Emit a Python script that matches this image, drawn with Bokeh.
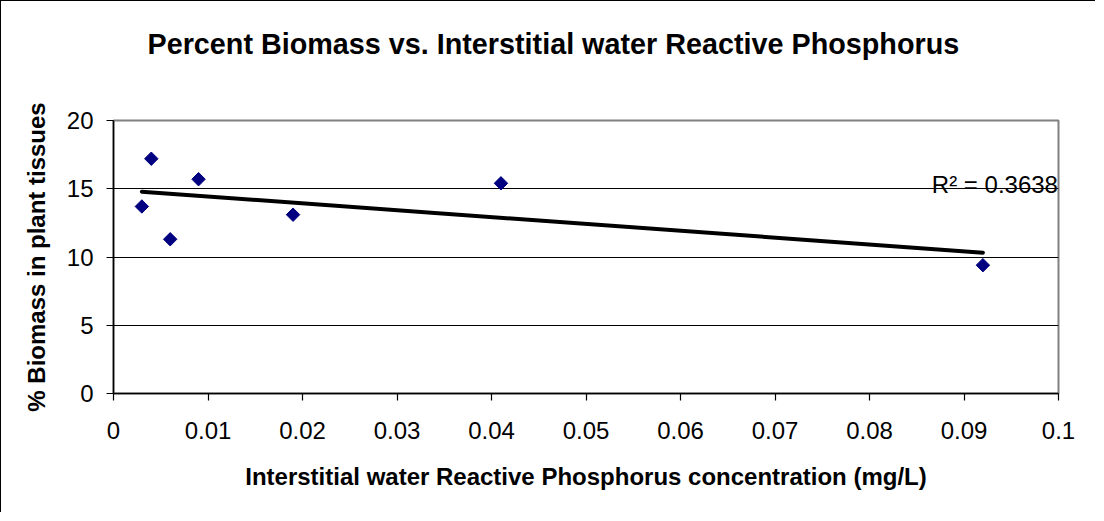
import numpy as np
from bokeh.plotting import figure
from bokeh.models import FixedTicker, Label, Range1d, Title
from bokeh.embed import file_html
from bokeh.resources import INLINE

# ---- data ----
phosphorus = [0.003, 0.004, 0.006, 0.009, 0.019, 0.041, 0.092]
biomass = [13.7, 17.2, 11.3, 15.7, 13.1, 15.4, 9.4]
x_ticks = [0.0, 0.01, 0.02, 0.03, 0.04, 0.05, 0.06, 0.07, 0.08, 0.09, 0.1]
x_tick_labels = ["0", "0.01", "0.02", "0.03", "0.04", "0.05", "0.06", "0.07", "0.08", "0.09", "0.1"]
y_ticks = [0, 5, 10, 15, 20]
y_tick_labels = ["0", "5", "10", "15", "20"]
title_text = "Percent Biomass vs. Interstitial water Reactive Phosphorus"
x_label = "Interstitial water Reactive Phosphorus concentration (mg/L)"
y_label = "% Biomass in plant tissues"
r2_text = "R\u00b2 = 0.3638"

FONT = "Liberation Sans"

p = figure(width=1095, height=512, output_backend="svg", toolbar_location=None,
           x_range=Range1d(0, 0.1), y_range=Range1d(0, 20),
           min_border_left=112, min_border_right=38, min_border_top=119, min_border_bottom=120)
p.styles = {"border-left": "1px solid #000000", "border-top": "1px solid #000000"}

p.background_fill_color = "white"
p.border_fill_color = "white"
p.outline_line_color = "#808080"
p.outline_line_width = 2

# spacer between the title and the plot area
p.add_layout(Title(text=" ", text_font_size="1px", standoff=58), "above")

# title
p.title.text = title_text
p.title.text_font = FONT
p.title.text_font_size = "28.75px"
p.title.text_font_style = "bold"
p.title.text_color = "black"
p.title.align = "left"
p.title.offset = 34
p.title.standoff = 0

# axes
for ax in (p.xaxis[0], p.yaxis[0]):
    ax.axis_line_color = "black"
    ax.axis_line_width = 1.5
    ax.major_tick_line_color = "black"
    ax.major_tick_line_width = 1.2
    ax.major_tick_in = 0
    ax.major_tick_out = 7
    ax.minor_tick_line_color = None
    ax.major_label_text_font = FONT
    ax.major_label_text_font_size = "24px"
    ax.major_label_text_color = "black"
    ax.axis_label_text_font = FONT
    ax.axis_label_text_font_size = "24px"
    ax.axis_label_text_font_style = "bold"
    ax.axis_label_text_color = "black"

p.xaxis.ticker = FixedTicker(ticks=x_ticks)
p.xaxis.major_label_overrides = {t: l for t, l in zip(x_ticks, x_tick_labels)}
p.xaxis.major_label_standoff = 21
p.xaxis.axis_label = x_label
p.xaxis.axis_label_standoff = 21

p.yaxis.ticker = FixedTicker(ticks=y_ticks)
p.yaxis.major_label_overrides = {t: l for t, l in zip(y_ticks, y_tick_labels)}
p.yaxis.major_label_standoff = 13
p.yaxis.axis_label = y_label
p.yaxis.axis_label_standoff = 14

p.xgrid.grid_line_color = None
p.ygrid.grid_line_color = "black"
p.ygrid.grid_line_width = 1

# linear trend line (least squares fit of the data)
xs = np.array(phosphorus)
ys = np.array(biomass)
slope, intercept = np.polyfit(xs, ys, 1)
tx = [xs.min(), xs.max()]
ty = [slope * v + intercept for v in tx]
p.line(tx, ty, line_color="black", line_width=4, line_cap="round")

# markers (diamonds)
p.scatter(phosphorus, biomass, marker="square", angle=np.pi / 4, size=9.5,
          fill_color="#000080", line_color="#000080")

# R^2 label
p.add_layout(Label(x=0.0866, y=15.3, text=r2_text, text_font=FONT,
                   text_font_size="24px", text_color="black",
                   text_baseline="alphabetic", text_align="left"))

open("out.html", "w").write(file_html(p, INLINE))
